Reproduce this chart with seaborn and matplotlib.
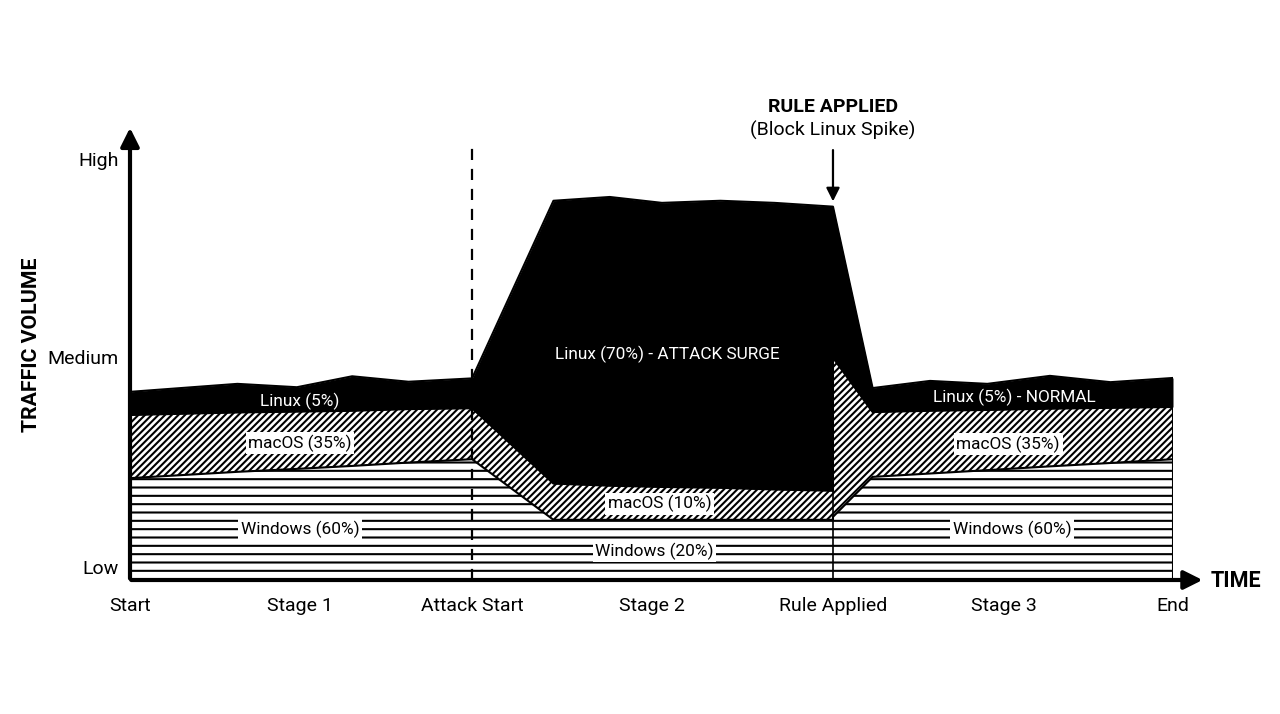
"""
Stacked traffic-volume chart: OS share before / during / after an attack.
"""

import pandas as pd
import matplotlib.pyplot as plt
import seaborn as sns

# ============================================================================
# 1. DATA
# ============================================================================

time_pos = [0, 10.3, 16.0, 21.3, 26.7, 32.8, 40.6, 46.0, 51.0, 56.6, 61.8,
            67.4, 67.4, 71.2, 76.7, 82.2, 88.2, 94.0, 100]
windows = [24.2, 25.7, 26.4, 27.1, 27.9, 28.7, 14.3, 14.3, 14.3, 14.3, 14.3,
           14.3, 15.0, 24.5, 25.3, 26.1, 27.0, 27.8, 28.7]
macos = [15.0, 14.1, 13.6, 13.1, 12.7, 12.1, 8.6, 8.1, 7.8, 7.6, 7.2,
         6.9, 37.8, 15.4, 14.9, 14.3, 13.7, 13.1, 12.4]
linux = [5.5, 6.8, 5.8, 8.2, 6.5, 7.1, 67.2, 68.6, 67.5, 68.2, 68.1,
         67.5, 35.9, 5.7, 7.1, 6.2, 7.8, 6.1, 6.9]

x_tick_pos = [0, 16.3, 32.8, 50.0, 67.4, 83.8, 100]
x_tick_labels = ['Start', 'Stage 1', 'Attack Start', 'Stage 2', 'Rule Applied', 'Stage 3', 'End']
y_tick_pos = [3, 53, 100]
y_tick_labels = ['Low', 'Medium', 'High']

attack_start = 32.8
rule_applied = 67.4

# label text, x, y, white text on black?
region_labels = [
    ('Linux (5%)', 16.3, 42.5, True),
    ('macOS (35%)', 16.3, 32.5, False),
    ('Windows (60%)', 16.3, 12.1, False),
    ('Linux (70%) - ATTACK SURGE', 51.5, 53.7, True),
    ('macOS (10%)', 50.8, 18.1, False),
    ('Windows (20%)', 50.3, 6.9, False),
    ('Linux (5%) - NORMAL', 84.8, 43.5, True),
    ('macOS (35%)', 84.2, 32.3, False),
    ('Windows (60%)', 84.6, 12.1, False),
]

df = pd.DataFrame({'time': time_pos, 'windows': windows, 'macos': macos, 'linux': linux})
df['win_top'] = df['windows']
df['mac_top'] = df['win_top'] + df['macos']
df['linux_top'] = df['mac_top'] + df['linux']

# ============================================================================
# 2. PLOT
# ============================================================================

sns.set_style('white')
plt.rcParams['font.family'] = ['Roboto', 'DejaVu Sans']
plt.rcParams['hatch.linewidth'] = 1.5
plt.rcParams['text.color'] = 'black'
plt.rcParams['xtick.color'] = 'black'
plt.rcParams['ytick.color'] = 'black'

fig = plt.figure(figsize=(12.8, 7.14), dpi=100)
ax = fig.add_axes([130 / 1280, 134 / 714, 1043 / 1280, 455 / 714])

# stacked areas
ax.fill_between(df['time'], 0, df['win_top'], facecolor='white', edgecolor='black',
                hatch='--', linewidth=0)
ax.fill_between(df['time'], df['win_top'], df['mac_top'], facecolor='white', edgecolor='black',
                hatch='/////', linewidth=0)
ax.fill_between(df['time'], df['mac_top'], df['linux_top'], facecolor='black', edgecolor='black',
                linewidth=0)

# boundary outlines
for col in ['win_top', 'mac_top', 'linux_top']:
    sns.lineplot(data=df, x='time', y=col, ax=ax, color='black', linewidth=1.5,
                 estimator=None, sort=False)
ax.vlines(100, 0, df['linux_top'].iloc[-1], color='black', linewidth=1.5)

# event markers
ax.vlines(attack_start, 0, 104, color='black', linewidth=1.6, linestyles=(0, (5, 4)))
ax.vlines(rule_applied, 0, df.loc[11, 'linux_top'], color='black', linewidth=1.2)
ax.annotate('', xy=(rule_applied, 89.3), xytext=(rule_applied, 102.8),
            arrowprops=dict(arrowstyle='-|>', color='black', lw=1.6, mutation_scale=20),
            annotation_clip=False)
ax.text(rule_applied, 112.4, 'RULE APPLIED', ha='center', va='center',
        fontsize=14, fontweight='bold', clip_on=False)
ax.text(rule_applied, 106.9, '(Block Linux Spike)', ha='center', va='center',
        fontsize=14, clip_on=False)

# region labels
for text, x, y, on_black in region_labels:
    if on_black:
        ax.text(x, y, text, ha='center', va='center', color='white', fontsize=12.4)
    else:
        ax.text(x, y, text, ha='center', va='center', color='black', fontsize=12.4,
                bbox=dict(boxstyle='square,pad=0.15', facecolor='white', edgecolor='none'))

# axes with arrows
ax.set_xlim(0, 100)
ax.set_ylim(0, 108.1)
sns.despine(ax=ax, left=True, bottom=True)
ax.annotate('', xy=(0, 108.1), xytext=(0, -0.3),
            arrowprops=dict(arrowstyle='-|>', color='black', lw=3, mutation_scale=28),
            annotation_clip=False)
ax.annotate('', xy=(103.1, 0), xytext=(-0.15, 0),
            arrowprops=dict(arrowstyle='-|>', color='black', lw=3, mutation_scale=28),
            annotation_clip=False)

ax.set_xticks(x_tick_pos)
ax.set_xticklabels(x_tick_labels, fontsize=14)
ax.set_yticks(y_tick_pos)
ax.set_yticklabels(y_tick_labels, fontsize=14)
ax.tick_params(axis='x', length=0, pad=12)
ax.tick_params(axis='y', length=0, pad=8)
ax.set_xlabel('')
ax.set_ylabel('')

fig.text(32 / 1280, 1 - 345 / 714, 'TRAFFIC VOLUME', rotation=90, ha='center', va='center',
         fontsize=15.3, fontweight='bold')
fig.text(1236 / 1280, 1 - 581 / 714, 'TIME', ha='center', va='center',
         fontsize=15.5, fontweight='bold')

plt.savefig('out.png', dpi=100)
